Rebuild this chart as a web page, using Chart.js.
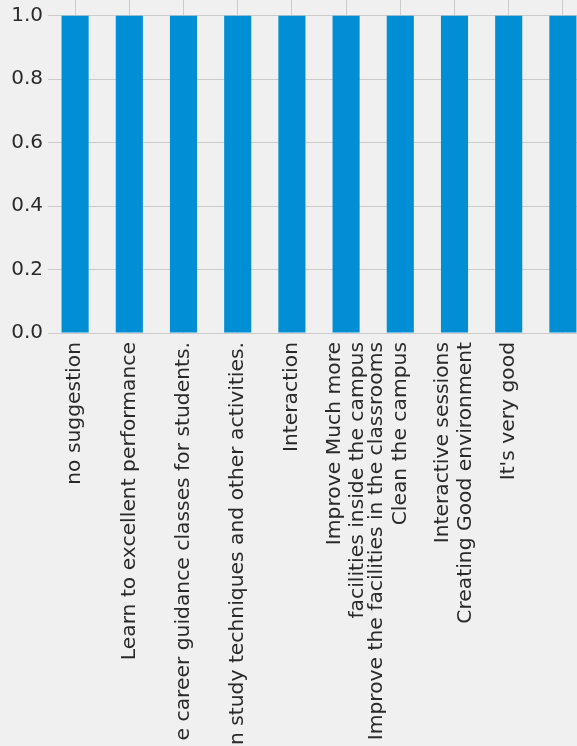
<!DOCTYPE html>
<html>
<head>
<meta charset="utf-8">
<script src="https://cdn.jsdelivr.net/npm/chart.js@4"></script>
<style>
  html, body { margin: 0; padding: 0; background: #f0f0f0; overflow: hidden; }
  canvas { display: block; }
</style>
</head>
<body>
<canvas id="chart" width="590" height="746"></canvas>
<script>
// data
const categories = [
  'no suggestion',
  'Learn to excellent performance',
  'e career guidance classes for students.',
  'n study techniques and other activities.',
  'Interaction',
  ['Improve Much more', 'facilities inside the campus'],
  ['Improve the facilities in the classrooms', 'Clean the campus', ''],
  ['Interactive sessions', 'Creating Good environment'],
  "It's very good",
  ''
];
const counts = [1, 1, 1, 1, 1, 1, 1, 1, 1, 1];
const yTicks = [0, 0.2, 0.4, 0.6, 0.8, 1.0];

const textColor = '#2a2a2a';
const gridColor = '#cbcbcb';

// matplotlib centres multi-line labels on the tick, Chart.js starts at it
const centerLines = {
  id: 'centerLines',
  beforeDraw(chart) {
    const items = chart.scales.x.getLabelItems();
    if (items._centered) return;
    items.forEach(item => {
      if (Array.isArray(item.label)) {
        item.textOffset -= (item.label.length - 1) * item.font.lineHeight / 2;
      }
    });
    items._centered = true;
  }
};

const ctx = document.getElementById('chart').getContext('2d');
new Chart(ctx, {
  type: 'bar',
  data: {
    labels: categories,
    datasets: [{
      data: counts,
      backgroundColor: '#008fd5',
      borderWidth: 0,
      barPercentage: 0.5,
      categoryPercentage: 1.0
    }]
  },
  options: {
    responsive: false,
    animation: false,
    layout: { padding: 0 },
    plugins: {
      legend: { display: false },
      tooltip: { enabled: false }
    },
    scales: {
      x: {
        grid: { color: gridColor, lineWidth: 1, offset: false, drawTicks: false },
        border: { display: false },
        ticks: {
          color: textColor,
          font: { family: 'DejaVu Sans', size: 20.3, lineHeight: 1.15 },
          minRotation: 90,
          maxRotation: 90,
          autoSkip: false,
          padding: 9
        },
        afterFit(scale) {
          scale.height = 746 - 333;
          scale.paddingLeft = 0;
          scale.paddingRight = 0;
        }
      },
      y: {
        min: 0,
        max: 1.05,
        grid: { color: gridColor, lineWidth: 1, drawTicks: false },
        border: { display: false },
        ticks: {
          color: textColor,
          font: { family: 'DejaVu Sans', size: 20 },
          padding: 5,
          callback: v => Number(v).toFixed(1)
        },
        afterBuildTicks(scale) {
          scale.ticks = yTicks.map(v => ({ value: v }));
        },
        afterFit(scale) {
          scale.width = 48;
          scale.paddingTop = 0;
          scale.paddingBottom = 0;
        }
      }
    }
  },
  plugins: [centerLines]
});
</script>
</body>
</html>
